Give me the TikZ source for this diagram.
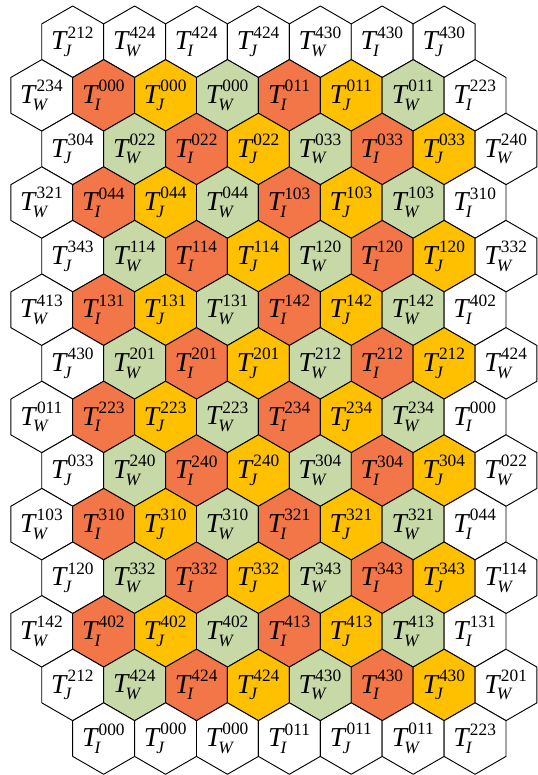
\documentclass[tikz,border=0pt]{standalone}
\usepackage{amsmath}
\usepackage{fontspec}
\setmainfont{Liberation Serif}
\usepackage{tikz}
\usetikzlibrary{shapes.geometric}
\DeclareMathSizes{20.5}{20.5}{13}{10}
\definecolor{hexr}{RGB}{243,118,72}
\definecolor{hexy}{RGB}{255,192,0}
\definecolor{hexg}{RGB}{200,217,168}
\definecolor{hexw}{RGB}{255,255,255}
\newcommand{\hlab}[2]{$\textit{T}^{\kern1pt\text{#2}}_{\kern-2pt\textit{#1}}$}
\tikzset{
  every picture/.append style={line cap=round,line join=round},
  hex cell/.style={regular polygon,regular polygon sides=6,shape border rotate=30,
    draw=black,line width=0.7pt,inner sep=0pt,minimum size=53.6pt,
    font=\fontsize{20.5}{24}\selectfont}
}
\begin{document}
\begin{tikzpicture}[x=0.75pt,y=-0.75pt]
  \useasboundingbox (0,0) rectangle (538,775);
  \foreach \r/\xo/\cells in {
    0/72.7/{J/212/w,W/424/w,I/424/w,J/424/w,W/430/w,I/430/w,J/430/w},
    1/41.75/{W/234/w,I/000/r,J/000/y,W/000/g,I/011/r,J/011/y,W/011/g,I/223/w},
    2/72.7/{J/304/w,W/022/g,I/022/r,J/022/y,W/033/g,I/033/r,J/033/y,W/240/w},
    3/41.75/{W/321/w,I/044/r,J/044/y,W/044/g,I/103/r,J/103/y,W/103/g,I/310/w},
    4/72.7/{J/343/w,W/114/g,I/114/r,J/114/y,W/120/g,I/120/r,J/120/y,W/332/w},
    5/41.75/{W/413/w,I/131/r,J/131/y,W/131/g,I/142/r,J/142/y,W/142/g,I/402/w},
    6/72.7/{J/430/w,W/201/g,I/201/r,J/201/y,W/212/g,I/212/r,J/212/y,W/424/w},
    7/41.75/{W/011/w,I/223/r,J/223/y,W/223/g,I/234/r,J/234/y,W/234/g,I/000/w},
    8/72.7/{J/033/w,W/240/g,I/240/r,J/240/y,W/304/g,I/304/r,J/304/y,W/022/w},
    9/41.75/{W/103/w,I/310/r,J/310/y,W/310/g,I/321/r,J/321/y,W/321/g,I/044/w},
    10/72.7/{J/120/w,W/332/g,I/332/r,J/332/y,W/343/g,I/343/r,J/343/y,W/114/w},
    11/41.75/{W/142/w,I/402/r,J/402/y,W/402/g,I/413/r,J/413/y,W/413/g,I/131/w},
    12/72.7/{J/212/w,W/424/g,I/424/r,J/424/y,W/430/g,I/430/r,J/430/y,W/201/w},
    13/103.65/{I/000/w,J/000/w,W/000/w,I/011/w,J/011/w,W/011/w,I/223/w}} {
    \foreach \l/\n/\c [count=\k from 0] in \cells {
      \node[hex cell,fill=hex\c] (h\r-\k) at ({\xo+61.9*\k},{41.74+53.6*\r}) {\hlab{\l}{\n}};
    }
  }
\end{tikzpicture}
\end{document}
